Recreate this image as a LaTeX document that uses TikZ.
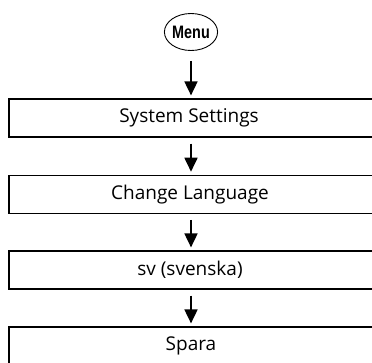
\documentclass[tikz,border=0pt]{standalone}
\usepackage{fontspec}
\setmainfont{Open Sans}
\newfontfamily\menufont[FakeStretch=0.8]{Liberation Sans}
\usetikzlibrary{shapes.geometric,arrows.meta}
\begin{document}
\begin{tikzpicture}[x=1pt,y=-1pt,
  stepbox/.style={draw,line width=1.2pt,minimum width=368pt,minimum height=38pt,inner sep=0pt},
  steptext/.style={font=\fontsize{19}{21}\selectfont},
  flow/.style={line width=1.8pt,-{Triangle[length=14pt,width=13pt]}}]
\useasboundingbox (0,0) rectangle (372,362);
\node[ellipse,draw,line width=0.9pt,minimum width=44pt,minimum height=37pt,inner sep=0pt,font=\menufont\bfseries\fontsize{18}{19}\selectfont] (menu) at (191,32) {Menu};
\node[stepbox] (b1) at (193,118) {};
\node[stepbox] (b2) at (193,194.3) {};
\node[stepbox] (b3) at (193,270) {};
\node[stepbox] (b4) at (193,346) {};
\node[steptext] (t1) at (189,118) {System Settings};
\node[steptext] (t2) at (190,194.3) {Change Language};
\node[steptext] (t3) at (190,270) {sv (svenska)};
\node[steptext] (t4) at (191,346) {Spara};
\draw[flow,shorten <=10pt,shorten >=3pt] (menu.south) -- (b1.north -| menu.south);
\draw[flow,shorten <=6pt,shorten >=3pt] (b1.south -| menu.south) -- (b2.north -| menu.south);
\draw[flow,shorten <=6pt,shorten >=3pt] (b2.south -| menu.south) -- (b3.north -| menu.south);
\draw[flow,shorten <=6pt,shorten >=3pt] (b3.south -| menu.south) -- (b4.north -| menu.south);
\end{tikzpicture}
\end{document}
